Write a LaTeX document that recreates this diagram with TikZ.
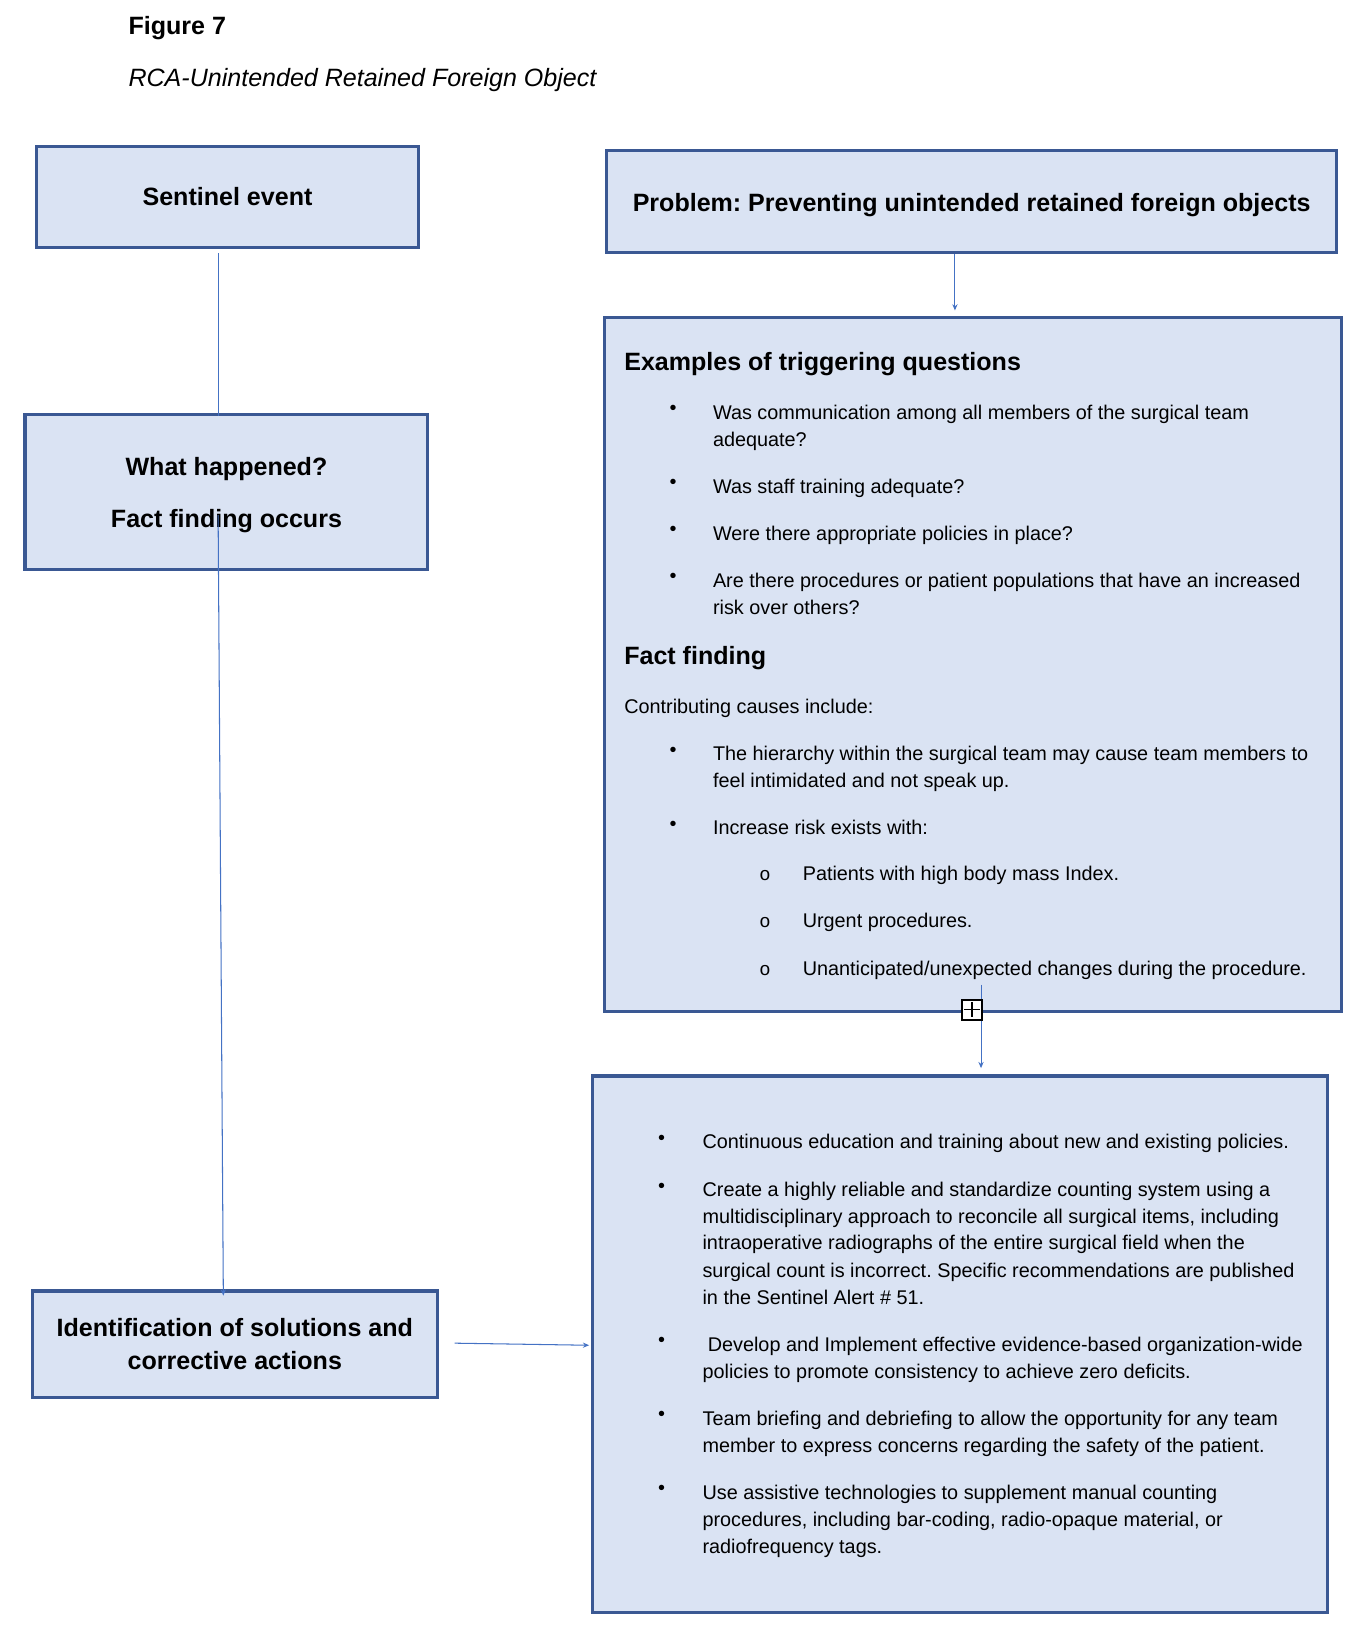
\documentclass[tikz,border=0pt]{standalone}
\usepackage{fontspec}
\setmainfont{Liberation Sans}
\newfontfamily\monof{Liberation Mono}
\usetikzlibrary{arrows.meta}
\definecolor{boxfill}{HTML}{DAE3F3}
\definecolor{boxline}{HTML}{3A5893}
\definecolor{connc}{HTML}{4472C4}
\newcommand\Ln[4]{\node[body] (#1) at (#2,#3) {#4};}
\newcommand\Bu[3]{\node[bul] (#1) at (#2,#3) {\textbullet};}
\newcommand\Sb[3]{\node[sbul] (#1) at (#2,#3) {o};}
\frenchspacing
\begin{document}
\begin{tikzpicture}[x=1pt,y=-1pt,
  box/.style={draw=boxline,fill=boxfill,line width=3pt,inner sep=0pt},
  title/.style={font=\fontsize{24}{28}\selectfont\bfseries,align=center},
  body/.style={anchor=mid west,inner sep=0pt,yshift=-4pt,font=\fontsize{19}{23}\selectfont},
  head/.style={anchor=mid west,inner sep=0pt,yshift=-5pt,font=\fontsize{24}{28}\selectfont\bfseries},
  bul/.style={anchor=center,inner sep=0pt,yshift=-3pt,font=\fontsize{19}{23}\selectfont},
  sbul/.style={anchor=center,inner sep=0pt,yshift=-3pt,font=\fontsize{18}{23}\monof},
  conn/.style={draw=connc,line width=1pt},
  arr/.style={conn,-{Stealth[length=6pt,width=5pt]}}]
\useasboundingbox (0,0) rectangle (1307,1567.6);

% headings
\node[head] (fig) at (123,25) {Figure 7};
\node[head,font=\fontsize{24}{28}\selectfont\itshape] (ttl) at (123,75) {RCA-Unintended Retained Foreign Object};

% boxes
\node[box,title,minimum width=366pt,minimum height=97pt] (sent) at (218,188.5) {Sentinel event};
\node[box,title,text height=23.5pt,text depth=5pt,minimum width=700pt,minimum height=98pt] (prob) at (931,193) {Problem: Preventing unintended retained foreign objects};
\node[box,minimum width=706pt,minimum height=665pt] (ex) at (932,636.5) {};
\node[box,title,font=\fontsize{24}{50}\selectfont\bfseries,minimum width=386pt,minimum height=149pt] (what) at (217,471.5) {\rule{0pt}{23.5pt}What happened?\\Fact finding occurs};
\node[box,title,font=\fontsize{24}{31}\selectfont\bfseries,minimum width=388pt,minimum height=102pt] (ident) at (225,1288) {Identification of solutions and\\corrective actions};
\node[box,minimum width=704pt,minimum height=514pt] (bot) at (920,1288) {};

% examples box content
\node[head] (exh) at (598,347) {Examples of triggering questions};
\Bu{b1}{645}{390}\Bu{b2}{645}{461}\Bu{b3}{645}{506}\Bu{b4}{645}{551}
\Ln{q1a}{683}{395}{Was communication among all members of the surgical team}
\Ln{q1b}{683}{421}{adequate?}
\Ln{q2}{683}{466}{Was staff training adequate?}
\Ln{q3}{683}{511}{Were there appropriate policies in place?}
\Ln{q4a}{683}{556}{Are there procedures or patient populations that have an increased}
\Ln{q4b}{683}{582}{risk over others?}
\node[head] (ffh) at (598,629) {Fact finding};
\Ln{cc}{598}{677}{Contributing causes include:}
\Bu{b5}{645}{717}\Bu{b6}{645}{788}
\Ln{f1a}{683}{722}{The hierarchy within the surgical team may cause team members to}
\Ln{f1b}{683}{748}{feel intimidated and not speak up.}
\Ln{f2}{683}{793}{Increase risk exists with:}
\Sb{s1}{733}{836}\Sb{s2}{733}{881}\Sb{s3}{733}{927}
\Ln{r1}{769}{837}{Patients with high body mass Index.}
\Ln{r2}{769}{882}{Urgent procedures.}
\Ln{r3}{769}{928}{Unanticipated/unexpected changes during the procedure.}

% bottom box content
\Bu{c1}{634}{1089}\Bu{c2}{634}{1135}\Bu{c3}{634}{1283}\Bu{c4}{634}{1354}\Bu{c5}{634}{1425}
\Ln{a1}{673}{1094}{Continuous education and training about new and existing policies.}
\Ln{a2a}{673}{1140}{Create a highly reliable and standardize counting system using a}
\Ln{a2b}{673}{1166}{multidisciplinary approach to reconcile all surgical items, including}
\Ln{a2c}{673}{1191}{intraoperative radiographs of the entire surgical field when the}
\Ln{a2d}{673}{1217}{surgical count is incorrect. Specific recommendations are published}
\Ln{a2e}{673}{1243}{in the Sentinel Alert \# 51.}
\Ln{a3a}{678}{1288}{Develop and Implement effective evidence-based organization-wide}
\Ln{a3b}{673}{1314}{policies to promote consistency to achieve zero deficits.}
\Ln{a4a}{673}{1359}{Team briefing and debriefing to allow the opportunity for any team}
\Ln{a4b}{673}{1385}{member to express concerns regarding the safety of the patient.}
\Ln{a5a}{673}{1430}{Use assistive technologies to supplement manual counting}
\Ln{a5b}{673}{1456}{procedures, including bar-coding, radio-opaque material, or}
\Ln{a5c}{673}{1482}{radiofrequency tags.}

% connectors
\draw[conn] ([shift={(-9,4)}]sent.south) -- ([shift={(-8,3)}]what.north);
\draw[arr] ([shift={(-8,-54)}]what.south) -- ([shift={(-11,6)}]ident.north);
\draw[arr] ([shift={(-16,0)}]prob.south) -- ([shift={(-17,-5)}]ex.north);
\draw[arr] ([shift={(8,-27)}]ex.south) -- ([shift={(20,-6)}]bot.north);
\draw[arr] ([shift={(15,-1)}]ident.east) -- ([shift={(-2,1)}]bot.west);

% anchor handle
\node[draw=black,fill=white,line width=1.8pt,minimum size=19pt,inner sep=0pt] (hdl) at (931.5,967.5) {};
\draw[line width=1.3pt] ([yshift=-3pt]hdl.north) -- ([yshift=3pt]hdl.south);
\draw[line width=1.3pt] ([xshift=3pt]hdl.west) -- ([xshift=-3pt]hdl.east);
\end{tikzpicture}
\end{document}
